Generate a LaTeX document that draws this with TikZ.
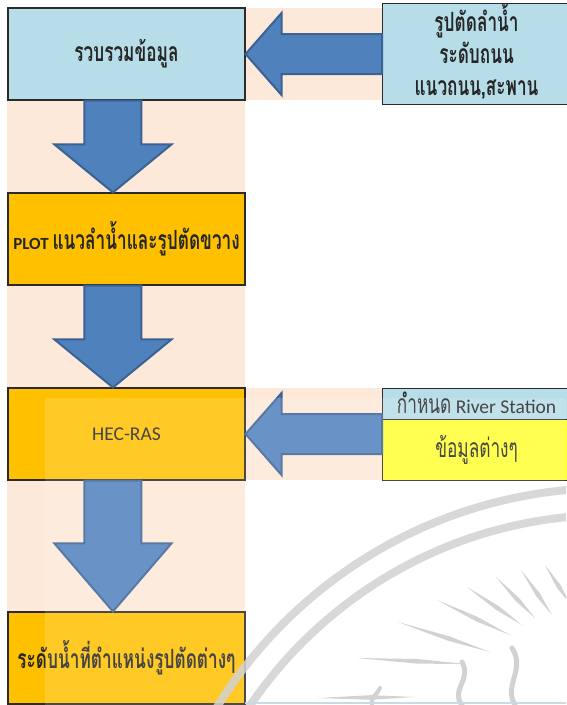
\documentclass[tikz,border=0pt]{standalone}
\usepackage{fontspec}
\setmainfont{Carlito}
\newfontfamily\thaifont[Script=Thai,FakeStretch=0.65]{Loma}
\usetikzlibrary{calc}

\definecolor{peach}{HTML}{FDE9D9}
\definecolor{lblue}{HTML}{B7DDE8}
\definecolor{amber}{HTML}{FFC000}
\definecolor{lemon}{HTML}{FFFF33}
\definecolor{boxline}{HTML}{2B2B2B}
\definecolor{arrowfill}{HTML}{4F81BD}
\definecolor{arrowedge}{HTML}{3A6294}
\definecolor{wm}{HTML}{D2D2D2}

\tikzset{
  box/.style={draw=boxline, line width=1.1pt, minimum width=237pt,
    minimum height=92pt, align=center, inner sep=0pt, text=black!85},
  sidebox/.style={draw=boxline, line width=1.1pt, minimum width=188pt,
    align=center, inner sep=0pt, text=black!85},
  blockarrow/.style={fill=arrowfill, draw=arrowedge, line width=2pt, line join=miter},
  wmline/.style={draw=wm, line cap=round},
}

% downward block arrow: source box, target box, head length
\newcommand\flowdown[3]{%
  \draw[blockarrow] let \p1=(#1.south west), \p2=(#2.north west) in
    (\x1+77pt,\y1) -- (\x1+134pt,\y1) -- (\x1+134pt,\y2+#3) -- (\x1+164pt,\y2+#3)
    -- (\x1+105.5pt,\y2) -- (\x1+47pt,\y2+#3) -- (\x1+77pt,\y2+#3) -- cycle;}
% leftward block arrow: source box, target box
\newcommand\flowleft[2]{%
  \draw[blockarrow] let \p1=(#1.west), \p2=(#2.east) in
    (\x1,\y2+20pt) -- (\x2+36pt,\y2+20pt) -- (\x2+36pt,\y2+41pt) -- (\x2,\y2)
    -- (\x2+36pt,\y2-41pt) -- (\x2+36pt,\y2-20pt) -- (\x1,\y2-20pt) -- cycle;}
% tapered ray of the seal
\newcommand\wmray[2]{%
  \fill[wm] (#1) -- ($(#1)!0.55!(#2)!2.3pt!90:(#2)$) -- (#2)
    -- ($(#1)!0.55!(#2)!2.3pt!-90:(#2)$) -- cycle;}

\begin{document}
\begin{tikzpicture}[x=1pt,y=-1pt]
\useasboundingbox (0,0) rectangle (566,705);
\fill[white] (0,0) rectangle (566,705);

% peach bands behind the flow
\fill[peach] (7,8) rectangle (245,612);
\fill[peach] (245,8) rectangle (382,100);
\fill[peach] (245,388) rectangle (382,480);

% main column
\node[box, fill=lblue, font=\thaifont\bfseries\fontsize{26.5}{30}\selectfont]
  (collect) at (126.5,54) {รวบรวมข้อมูล};
\node[box, fill=amber, font=\bfseries\fontsize{17}{20}\selectfont]
  (plot) at (126.5,239) {\raisebox{2pt}{PLOT {\thaifont\fontsize{26.5}{30}\selectfont แนวลำน้ำและรูปตัดขวาง}}};
\node[box, fill=amber, font=\fontsize{19.5}{22}\selectfont]
  (hec) at (126.5,434) {HEC-RAS};
\node[box, fill=amber, font=\thaifont\bfseries\fontsize{26.5}{30}\selectfont]
  (level) at (126.5,658) {\raisebox{6pt}{ระดับน้ำที่ตำแหน่งรูปตัดต่างๆ}};

% side inputs
\node[sidebox, fill=lblue, minimum height=92pt, anchor=west,
  font=\thaifont\bfseries\fontsize{26.5}{32}\selectfont]
  (survey) at (382,54)
  {\raisebox{4pt}{\begin{tabular}{@{}c@{}}รูปตัดลำน้ำ\\ระดับถนน\\แนวถนน,สะพาน\end{tabular}}};
\node[sidebox, fill=lblue, minimum height=31pt, anchor=north west,
  font=\fontsize{19.5}{22}\selectfont]
  (station) at (382,388) {\raisebox{3pt}{{\thaifont\fontsize{26.5}{30}\selectfont กำหนด} River Station}};
\node[sidebox, fill=lemon, minimum height=61pt, anchor=north west,
  font=\thaifont\fontsize{26.5}{30}\selectfont]
  (misc) at (382,419) {ข้อมูลต่างๆ};

% block arrows
\flowleft{survey}{collect}
\flowdown{collect}{plot}{48pt}
\flowdown{plot}{hec}{48pt}
\flowleft{misc}{hec}
\flowdown{hec}{level}{68pt}

% light wash over the lower part
\fill[white, opacity=0.15] (45,398) rectangle (566,705);

% seal watermark
\begin{scope}
  \clip (0,482) rectangle (566,705);
  \draw[wmline, line width=8pt, opacity=0.85] (610,950) circle[radius=462pt];
  \draw[wmline, line width=8pt, opacity=0.85] (610,950) circle[radius=435pt];
  \wmray{318,698}{415,697}
  \wmray{357,658}{466,664}
  \wmray{398,622}{490,652}
  \wmray{437,600}{510,635}
  \wmray{467,587}{522,625}
  \wmray{496,577}{535,618}
  \wmray{521,570}{552,615}
  \wmray{545,565}{570,604}
  \draw[wmline, line width=5pt] (462,705) .. controls (450,690) and (472,680) .. (462,662);
  \draw[wmline, line width=5pt] (515,705) .. controls (503,685) and (526,670) .. (512,648);
  \draw[wmline, line width=4pt] (372,705) .. controls (370,697) and (378,694) .. (380,688);
\end{scope}
\draw[draw=lblue!70!gray!60, line width=1.5pt] (245,703) -- (566,703);
\end{tikzpicture}
\end{document}
